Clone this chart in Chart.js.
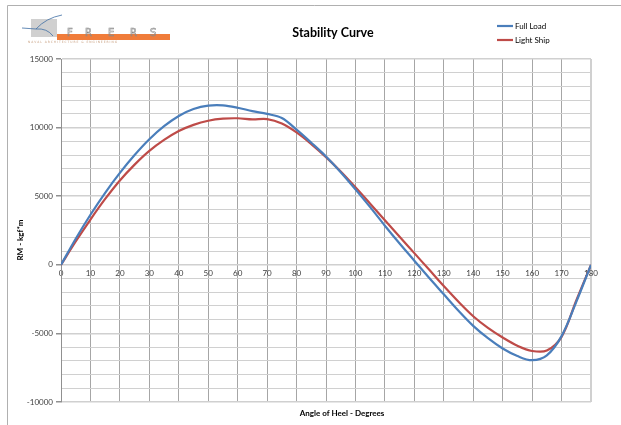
<!DOCTYPE html>
<html>
<head>
<meta charset="utf-8">
<title>Stability Curve</title>
<script src="https://cdn.jsdelivr.net/npm/chart.js@4"></script>
<style>
  html, body { margin: 0; padding: 0; background: #fff; }
  #wrap { width: 621px; height: 425px; }
</style>
</head>
<body>
<div id="wrap"><canvas id="myChart" width="621" height="425"></canvas></div>
<script>
// angle of heel, degrees
const angles = [0, 5, 10, 15, 20, 25, 30, 35, 40, 45, 50, 55, 60, 65, 70, 75, 80, 85, 90,
    95, 100, 105, 110, 115, 120, 125, 130, 135, 140, 145, 150, 155, 160, 165, 170, 175, 180];

// righting moment, kgf*m
const fullLoad = [0, 1900, 3650, 5250, 6700, 8000, 9150, 10100, 10850, 11350, 11600, 11620, 11450, 11200, 11000, 10700, 9850, 8900, 7900,
    6750, 5500, 4200, 2850, 1550, 300, -950, -2150, -3350, -4450, -5350, -6100, -6650, -6950, -6600, -5200, -2700, 0];
const lightShip = [0, 1700, 3300, 4800, 6150, 7300, 8300, 9100, 9750, 10200, 10500, 10650, 10680, 10600, 10620, 10300, 9650, 8800, 7850,
    6800, 5650, 4450, 3250, 2050, 850, -350, -1550, -2700, -3750, -4600, -5300, -5900, -6280, -6250, -5250, -2600, 0];

const seriesNames = ['Full Load', 'Light Ship'];
const seriesColors = ['#4a7ebb', '#be4b48'];

const xTicks = { min: 0, max: 180, step: 10 };
const yTicks = { min: -10000, max: 15000, step: 1000, labelStep: 5000 };

function toPoints(values) {
    return angles.map(function (a, i) { return { x: a, y: values[i] }; });
}

// frame, logo, title, axis titles and legend
const decorations = {
    id: 'decorations',
    beforeDraw: function (chart) {
        const ctx = chart.ctx;
        ctx.save();
        ctx.fillStyle = '#fff';
        ctx.fillRect(0, 0, chart.width, chart.height);
        ctx.strokeStyle = '#b0b0b0';
        ctx.lineWidth = 1;
        ctx.beginPath();
        ctx.moveTo(7.5, chart.height);
        ctx.lineTo(7.5, 5.5);
        ctx.lineTo(chart.width, 5.5);
        ctx.stroke();
        ctx.restore();
    },
    afterDraw: function (chart) {
        const ctx = chart.ctx;
        ctx.save();

        // logo
        ctx.fillStyle = '#d0d0d0';
        ctx.fillRect(31, 19, 26, 18);
        ctx.fillStyle = '#f07c3a';
        ctx.fillRect(57, 34, 113, 6);
        ctx.strokeStyle = '#3f6fa5';
        ctx.lineWidth = 0.8;
        ctx.beginPath();
        ctx.moveTo(36, 29);
        ctx.quadraticCurveTo(46, 18, 62, 15);
        ctx.moveTo(36, 29);
        ctx.quadraticCurveTo(47, 28, 53, 36);
        ctx.moveTo(22, 28);
        ctx.lineTo(36, 29);
        ctx.stroke();
        ctx.font = '10px "DejaVu Sans"';
        ctx.textBaseline = 'alphabetic';
        ctx.textAlign = 'left';
        ctx.strokeStyle = '#8a8a8a';
        ctx.lineWidth = 0.6;
        const letters = ['F', 'R', 'E', 'R', 'S'];
        const lx = [67, 85, 108, 130, 150];
        letters.forEach(function (l, i) { ctx.strokeText(l, lx[i], 36); });
        ctx.font = '3px "DejaVu Sans"';
        ctx.fillStyle = '#c8a080';
        ctx.fillText('N A V A L   A R C H I T E C T U R E   &   E N G I N E E R I N G', 28, 43);

        // title
        ctx.fillStyle = '#000';
        ctx.textAlign = 'center';
        ctx.textBaseline = 'middle';
        ctx.font = 'bold 12.5px Lato';
        ctx.fillText('Stability Curve', 333, 33);

        // axis titles
        ctx.font = 'bold 8px Lato';
        ctx.fillText('Angle of Heel - Degrees', 342, 413);
        ctx.save();
        ctx.translate(20, 240);
        ctx.rotate(-Math.PI / 2);
        ctx.fillText('RM - kgf*m', 0, 0);
        ctx.restore();

        // legend
        ctx.textAlign = 'left';
        ctx.font = '8px Lato';
        seriesNames.forEach(function (name, i) {
            const y = 26 + i * 14;
            ctx.strokeStyle = seriesColors[i];
            ctx.lineWidth = 2.2;
            ctx.beginPath();
            ctx.moveTo(497, y);
            ctx.lineTo(513, y);
            ctx.stroke();
            ctx.fillStyle = '#000';
            ctx.fillText(name, 515, y);
        });
        ctx.restore();
    }
};

function drawChart() {
    const config = {
        type: 'line',
        data: {
            datasets: [
                { label: seriesNames[0], data: toPoints(fullLoad), borderColor: seriesColors[0] },
                { label: seriesNames[1], data: toPoints(lightShip), borderColor: seriesColors[1] }
            ]
        },
        options: {
            responsive: false,
            animation: false,
            devicePixelRatio: 1,
            layout: {
                padding: { left: 0, top: 59, right: 30, bottom: 23 }
            },
            elements: {
                point: { radius: 0 },
                line: { borderWidth: 2.2, tension: 0.35, fill: false }
            },
            plugins: {
                legend: { display: false },
                title: { display: false },
                tooltip: { enabled: false }
            },
            scales: {
                x: {
                    type: 'linear',
                    position: { y: 0 },
                    min: xTicks.min,
                    max: xTicks.max,
                    ticks: {
                        stepSize: xTicks.step,
                        color: '#404040',
                        font: { family: 'Lato', size: 8 },
                        padding: 4,
                        maxRotation: 0
                    },
                    grid: {
                        drawTicks: false,
                        color: function (c) {
                            return c.tick && c.tick.value === xTicks.max ? '#d0d0d0' : '#a6a6a6';
                        },
                        lineWidth: function (c) {
                            return c.tick && c.tick.value === xTicks.max ? 2 : 1;
                        }
                    },
                    border: { color: '#d0d0d0', width: 1 }
                },
                y: {
                    type: 'linear',
                    min: yTicks.min,
                    max: yTicks.max,
                    afterFit: function (scale) { scale.width = 61; },
                    ticks: {
                        stepSize: yTicks.step,
                        color: '#404040',
                        font: { family: 'Lato', size: 8 },
                        padding: 3,
                        callback: function (v) {
                            return v % yTicks.labelStep === 0 ? String(v) : '';
                        }
                    },
                    grid: {
                        tickLength: 5,
                        color: '#d0d0d0',
                        lineWidth: function (c) {
                            return c.tick && c.tick.value % yTicks.labelStep === 0 ? 1.5 : 1;
                        },
                        tickColor: function (c) {
                            return c.tick && c.tick.value % yTicks.labelStep === 0 ? '#909090' : 'rgba(0,0,0,0)';
                        }
                    },
                    border: { color: '#909090', width: 1 }
                }
            }
        },
        plugins: [decorations]
    };

    const myChart = new Chart(
        document.getElementById('myChart'),
        config
    );
}

drawChart();
</script>
</body>
</html>
